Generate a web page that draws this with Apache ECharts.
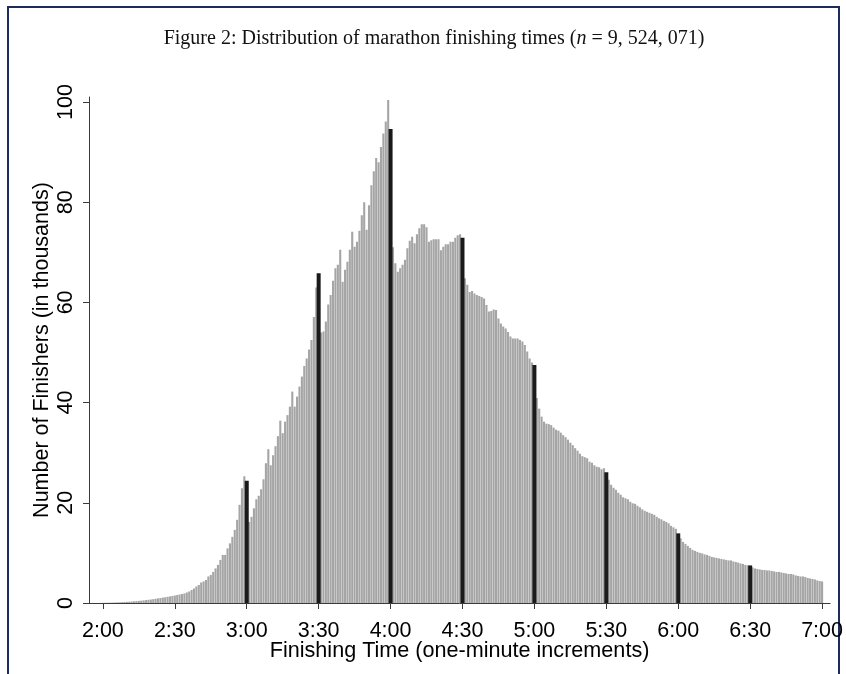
<!DOCTYPE html>
<html>
<head>
<meta charset="utf-8">
<title>Distribution of marathon finishing times</title>
<script src="https://cdn.jsdelivr.net/npm/echarts@6/dist/echarts.min.js"></script>
<style>
    html, body { margin: 0; padding: 0; background: #fff; }
    #frame { position: absolute; left: 7px; top: 6px; width: 829px; height: 700px; border: 2px solid #1d2b5e; border-bottom: none; }
    #chart { position: absolute; left: 0; top: 0; width: 846px; height: 674px; }
</style>
</head>
<body>
<div id="frame"></div>
<div id="chart"></div>
<script>
// finishers per one-minute bin, in thousands, one array per half hour
var from200 = [0.03,0.04,0.05,0.06,0.08,0.1,0.12,0.14,0.17,0.2, 0.23,0.26,0.3,0.34,0.38,0.42,0.47,0.52,0.58,0.64, 0.7,0.77,0.84,0.92,1.0,1.08,1.16,1.24,1.32,1.4];
var from230 = [1.5,1.6,1.7,1.8,1.9,2.1,2.3,2.6,2.9,3.3, 3.6,4.1,4.3,4.6,5.3,5.6,6.2,6.9,7.6,8.6, 9.6,9.6,10.9,11.9,13.2,14.6,16.6,19.6,22.9,25.3];
var from300 = [24.4, 16.2,17.2,18.9,20.7,21.4,22.7,24.7,27.9,30.7,27.5, 29.5,31.3,33.3,36.4,33.9,36.2,37.5,39.2,42.2,39.2, 41.2,43.2,45.2,47.3,48.8,50.6,52.5,57.1,63.0];
var from330 = [65.8, 54.0,54.2,56.2,59.6,61.5,64.3,66.8,67.5,70.5, 64.1,66.5,68.1,70.5,74.1,71.1,72.1,74.3,77.4,80.0, 74.5,79.4,83.4,86.2,88.8,88.0,91.0,93.7,96.1,100.4];
var from400 = [94.6, 71.0,67.8,66.1,66.8,67.5,68.5,70.8,72.3,73.1, 71.8,73.6,74.8,75.6,75.6,75.0,72.1,72.4,72.6,72.6, 72.6,70.4,71.1,71.6,71.6,72.1,72.1,72.9,73.4,73.6];
var from430 = [72.9, 64.8,63.5,62.1,62.3,61.8,61.5,61.3,61.1,60.8, 59.5,58.2,58.3,58.6,58.5,56.8,55.8,55.2,54.8,54.1, 53.2,52.8,52.8,52.8,52.5,52.2,51.5,50.2,48.8,48.0];
var from500 = [47.5, 40.9,38.8,37.2,36.2,35.8,35.7,35.5,35.0,34.6, 34.4,34.0,33.5,33.1,32.6,32.0,31.5,30.9,30.4,29.8, 29.3,29.1,28.9,28.2,28.0,27.5,27.2,27.1,26.7,26.9];
var from530 = [26.1, 24.6,23.6,23.0,22.6,22.0,21.6,21.1,20.9,20.7, 20.2,19.9,19.8,19.4,19.1,18.7,18.4,18.2,18.0,17.8, 17.6,17.2,16.9,16.7,16.4,16.2,15.9,15.4,15.1,14.8];
var from600 = [13.9, 12.9,12.2,11.8,11.4,11.0,10.6,10.4,10.2,10.0, 9.9,9.7,9.6,9.4,9.2,9.1,9.0,8.9,8.8,8.7, 8.6,8.5,8.5,8.3,8.2,8.05,7.9,7.8,7.6,7.5];
var from630 = [7.5, 7.1,6.9,6.8,6.7,6.6,6.6,6.5,6.5,6.4, 6.3,6.2,6.2,6.1,6.0,5.9,5.8,5.8,5.7,5.5, 5.4,5.3,5.3,5.2,5.0,4.9,4.8,4.7,4.5,4.4, 4.3];

var startTime = '2:00';
var highlightTimes = ['3:00', '3:30', '4:00', '4:30', '5:00', '5:30', '6:00', '6:30'];
var xTickLabels = ['2:00', '2:30', '3:00', '3:30', '4:00', '4:30', '5:00', '5:30', '6:00', '6:30', '7:00'];
var yTickLabels = [0, 20, 40, 60, 80, 100];

function toMinutes(t) {
    var p = t.split(':');
    return parseInt(p[0], 10) * 60 + parseInt(p[1], 10);
}
function toLabel(m) {
    return Math.floor(m / 60) + ':' + ('0' + (m % 60)).slice(-2);
}

var finishers = [].concat(from200, from230, from300, from330, from400, from430, from500, from530, from600, from630);
var startMinute = toMinutes(startTime);
var highlightMinutes = highlightTimes.map(toMinutes);
var xTicks = xTickLabels.map(toMinutes);

var grayBars = [];
var blackBars = [];
finishers.forEach(function (v, i) {
    var m = startMinute + i;
    if (highlightMinutes.indexOf(m) >= 0) {
        blackBars.push([m, v]);
    } else {
        grayBars.push([m, v]);
    }
});

var axisColor = '#3a3a3a';
var font = 'Liberation Sans, Arial, sans-serif';
var serif = 'Liberation Serif, serif';
var xMin = 114.2, xMax = 423.35;

var myChart = echarts.init(document.getElementById('chart'));
var option = {
    animation: false,
    title: {
        text: '{r|Figure 2: Distribution of marathon finishing times (}{i|n}{r| = 9, 524, 071)}',
        left: 429,
        top: 24,
        textAlign: 'center',
        textStyle: {
            fontWeight: 'normal',
            rich: {
                r: { fontFamily: serif, fontSize: 20, fontWeight: 'normal', color: '#111' },
                i: { fontFamily: serif, fontSize: 20, fontWeight: 'normal', fontStyle: 'italic', color: '#111' }
            }
        }
    },
    grid: { left: 89, right: 11, top: 97, bottom: 71 },
    xAxis: [{
        type: 'value',
        min: xMin,
        max: xMax,
        name: 'Finishing Time (one-minute increments)',
        nameLocation: 'middle',
        nameGap: 37,
        nameMoveOverlap: false,
        nameTextStyle: { fontFamily: font, fontSize: 21.6, color: '#000' },
        axisLine: { show: true, lineStyle: { color: axisColor, width: 1 } },
        axisTick: { show: true, customValues: xTicks, length: 6, lineStyle: { color: axisColor } },
        axisLabel: {
            customValues: xTicks,
            formatter: function (v) { return toLabel(Math.round(v)); },
            fontFamily: font, fontSize: 21.5, color: '#000', margin: 17
        },
        splitLine: { show: false }
    }, {
        type: 'value',
        min: xMin,
        max: xMax,
        show: false
    }],
    yAxis: {
        type: 'value',
        min: 0,
        max: 101,
        name: 'Number of Finishers (in thousands)',
        nameLocation: 'middle',
        nameGap: 36,
        nameRotate: 90,
        nameMoveOverlap: false,
        nameTextStyle: { fontFamily: font, fontSize: 21.5, color: '#000' },
        axisLine: { show: true, lineStyle: { color: axisColor, width: 1 } },
        axisTick: { show: true, customValues: yTickLabels, length: 6, lineStyle: { color: axisColor } },
        axisLabel: {
            customValues: yTickLabels,
            rotate: 90,
            fontFamily: font, fontSize: 21.5, color: '#000', margin: 12
        },
        splitLine: { show: false }
    },
    series: [
        {
            type: 'bar',
            xAxisIndex: 0,
            barWidth: 2.1,
            itemStyle: { color: '#a5a5a5' },
            data: grayBars
        },
        {
            type: 'bar',
            xAxisIndex: 1,
            barWidth: 4,
            itemStyle: { color: '#1a1a1a' },
            data: blackBars
        }
    ]
};
myChart.setOption(option);
</script>
</body>
</html>
